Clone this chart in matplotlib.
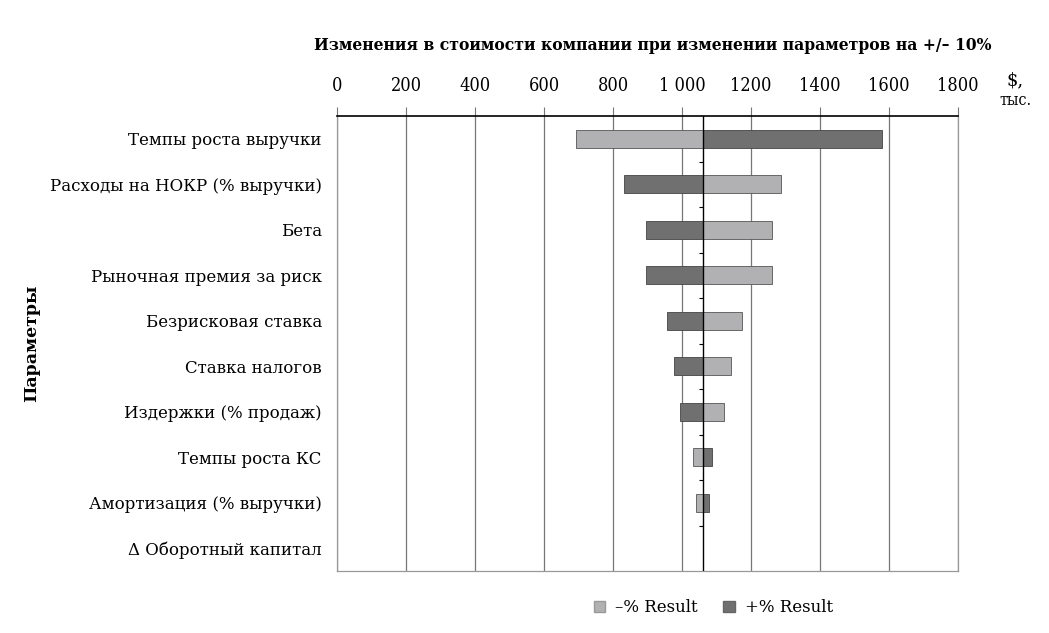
import matplotlib
matplotlib.use("Agg")
import matplotlib.pyplot as plt
from matplotlib.patches import Patch

# parameters, top to bottom
params = ["Темпы роста выручки", "Расходы на НОКР (% выручки)", "Бета",
          "Рыночная премия за риск", "Безрисковая ставка", "Ставка налогов",
          "Издержки (% продаж)", "Темпы роста КС", "Амортизация (% выручки)",
          "\u0394 Оборотный капитал"]
# company value, $ thousands
base_value = 1060
minus_result = [692, 1286, 1260, 1260, 1173, 1141, 1123, 1033, 1041, 1060]
plus_result = [1580, 832, 896, 896, 957, 977, 994, 1086, 1077, 1060]
x_ticks = [0, 200, 400, 600, 800, 1000, 1200, 1400, 1600, 1800]
x_tick_labels = ["0", "200", "400", "600", "800", "1 000", "1200", "1400", "1600", "1800"]

LIGHT = "#b1b1b3"
DARK = "#707070"
SERIF = "DejaVu Serif"

fig = plt.figure(figsize=(10.49, 6.33), dpi=100)
ax = fig.add_axes([0.3213, 0.0979, 0.5920, 0.7188])

ypos = list(range(len(params)))
minus_w = [v - base_value for v in minus_result]
plus_w = [v - base_value for v in plus_result]
ax.barh(ypos, minus_w, left=base_value, height=0.4, color=LIGHT, edgecolor="#555555", linewidth=0.6, zorder=3)
ax.barh(ypos, plus_w, left=base_value, height=0.4, color=DARK, edgecolor="#444444", linewidth=0.6, zorder=3)

ax.axvline(base_value, color="black", linewidth=1.0, zorder=4)
ax.hlines([k + 0.5 for k in ypos[:-1]], base_value - 12, base_value, color="black", linewidth=0.8, zorder=4)

ax.set_xlim(0, 1800)
ax.set_ylim(len(params) - 0.5, -0.5)
ax.set_xticks(x_ticks)
ax.set_xticklabels(x_tick_labels, family=SERIF, fontsize=13, stretch="condensed")
ax.xaxis.tick_top()
ax.tick_params(axis="x", length=6.5, color="#777777", pad=8.5)
ax.grid(axis="x", color="#777777", linewidth=0.9, zorder=0)
ax.set_yticks(ypos)
ax.set_yticklabels(params, family=SERIF, fontsize=12)
ax.tick_params(axis="y", length=0, pad=11)

for side in ["left", "bottom", "right"]:
    ax.spines[side].set_color("#999999")
    ax.spines[side].set_linewidth(0.9)
ax.spines["top"].set_color("black")
ax.spines["top"].set_linewidth(1.2)

fig.text(0.622, 0.928, "Изменения в стоимости компании при изменении параметров на +/\u2013 10%",
         ha="center", va="center", family=SERIF, fontsize=12.5, fontweight="bold", stretch="condensed")
fig.text(0.968, 0.873, "$,", ha="center", va="center", family=SERIF, fontsize=13)
fig.text(0.968, 0.841, "тыс.", ha="center", va="center", family=SERIF, fontsize=11.5, stretch="condensed")
fig.text(0.03, 0.458, "Параметры", rotation=90, ha="center", va="center",
         family=SERIF, fontsize=12.5, fontweight="bold")

handles = [Patch(facecolor=LIGHT, edgecolor="#999999", label="\u2013% Result"),
           Patch(facecolor=DARK, edgecolor="#666666", label="+% Result")]
fig.legend(handles=handles, loc="center", bbox_to_anchor=(0.68, 0.04), ncol=2, frameon=False,
           prop={"family": SERIF, "size": 12}, handlelength=0.7, handleheight=0.7,
           handletextpad=0.6, columnspacing=1.5)

fig.savefig("out.png", dpi=100)
